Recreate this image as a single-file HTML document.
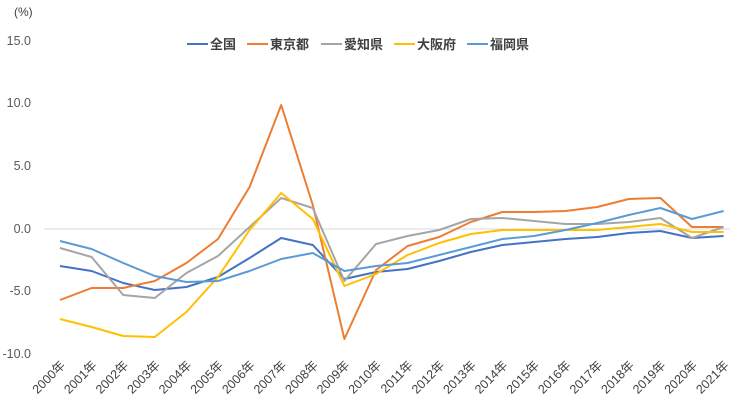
<!DOCTYPE html>
<html><head><meta charset="utf-8"><style>body{margin:0;background:#fff}</style></head><body>
<svg width="730" height="412" xmlns="http://www.w3.org/2000/svg" font-family="Liberation Sans, Noto Sans CJK JP, sans-serif">
<rect width="730" height="412" fill="#fff"/>
<text x="14" y="16" font-size="12" fill="#404040">(%)</text>
<g font-size="12.5" fill="#595959" text-anchor="end">
<text x="31" y="45">15.0</text><text x="31" y="107">10.0</text><text x="31" y="170">5.0</text>
<text x="31" y="233">0.0</text><text x="31" y="295">-5.0</text><text x="31" y="358">-10.0</text>
</g>
<line x1="44" y1="229" x2="730" y2="229" stroke="#d9d9d9" stroke-width="1"/>
<g fill="none" stroke-width="2" stroke-linejoin="round">
<polyline stroke="#4472C4" points="60,266 91.6,271 123.2,283 154.8,290 186.4,287 218,277 249.6,258 281.2,238 312.8,245 344.4,279 376,272 407.6,269 439.2,261 470.8,252 502.4,245 534,242 565.6,239 597.2,237 628.8,233 660.4,231 692,238 723.6,236"/>
<polyline stroke="#ED7D31" points="60,300 91.6,288 123.2,288 154.8,281 186.4,263 218,239 249.6,187 281.2,105 312.8,205 344.4,339 376,270 407.6,246 439.2,237 470.8,222 502.4,212 534,212 565.6,211 597.2,207 628.8,199 660.4,198 692,227 723.6,227"/>
<polyline stroke="#A5A5A5" points="60,248 91.6,257 123.2,295 154.8,298 186.4,273 218,256 249.6,227 281.2,198 312.8,208 344.4,281 376,244 407.6,236 439.2,230 470.8,219 502.4,218 534,221 565.6,224 597.2,224 628.8,222 660.4,218 692,238 723.6,227"/>
<polyline stroke="#FFC000" points="60,319 91.6,327 123.2,336 154.8,337 186.4,312 218,277 249.6,230 281.2,193 312.8,219 344.4,286 376,274 407.6,255 439.2,243 470.8,234 502.4,230 534,230 565.6,230 597.2,230 628.8,227 660.4,224 692,232 723.6,232"/>
<polyline stroke="#5B9BD5" points="60,241 91.6,249 123.2,263 154.8,276 186.4,282 218,281 249.6,271 281.2,259 312.8,253 344.4,271 376,266 407.6,263 439.2,255 470.8,247 502.4,239 534,236 565.6,230 597.2,223 628.8,215 660.4,208 692,219 723.6,211"/>
</g>
<g font-size="13" font-weight="bold" fill="#404040">
<line x1="187" y1="44" x2="208" y2="44" stroke="#4472C4" stroke-width="2"/><text x="210" y="49">全国</text>
<line x1="247" y1="44" x2="268" y2="44" stroke="#ED7D31" stroke-width="2"/><text x="270" y="49">東京都</text>
<line x1="321" y1="44" x2="342" y2="44" stroke="#A5A5A5" stroke-width="2"/><text x="344" y="49">愛知県</text>
<line x1="394" y1="44" x2="415" y2="44" stroke="#FFC000" stroke-width="2"/><text x="417" y="49">大阪府</text>
<line x1="467" y1="44" x2="488" y2="44" stroke="#5B9BD5" stroke-width="2"/><text x="490" y="49">福岡県</text>
</g>
<g font-size="12.5" fill="#404040" text-anchor="end">
<text transform="translate(66,366) rotate(-45)">2000年</text>
<text transform="translate(97.6,366) rotate(-45)">2001年</text>
<text transform="translate(129.2,366) rotate(-45)">2002年</text>
<text transform="translate(160.8,366) rotate(-45)">2003年</text>
<text transform="translate(192.4,366) rotate(-45)">2004年</text>
<text transform="translate(224,366) rotate(-45)">2005年</text>
<text transform="translate(255.6,366) rotate(-45)">2006年</text>
<text transform="translate(287.2,366) rotate(-45)">2007年</text>
<text transform="translate(318.8,366) rotate(-45)">2008年</text>
<text transform="translate(350.4,366) rotate(-45)">2009年</text>
<text transform="translate(382,366) rotate(-45)">2010年</text>
<text transform="translate(413.6,366) rotate(-45)">2011年</text>
<text transform="translate(445.2,366) rotate(-45)">2012年</text>
<text transform="translate(476.8,366) rotate(-45)">2013年</text>
<text transform="translate(508.4,366) rotate(-45)">2014年</text>
<text transform="translate(540,366) rotate(-45)">2015年</text>
<text transform="translate(571.6,366) rotate(-45)">2016年</text>
<text transform="translate(603.2,366) rotate(-45)">2017年</text>
<text transform="translate(634.8,366) rotate(-45)">2018年</text>
<text transform="translate(666.4,366) rotate(-45)">2019年</text>
<text transform="translate(698,366) rotate(-45)">2020年</text>
<text transform="translate(729.6,366) rotate(-45)">2021年</text>
</g>
</svg>
</body></html>
